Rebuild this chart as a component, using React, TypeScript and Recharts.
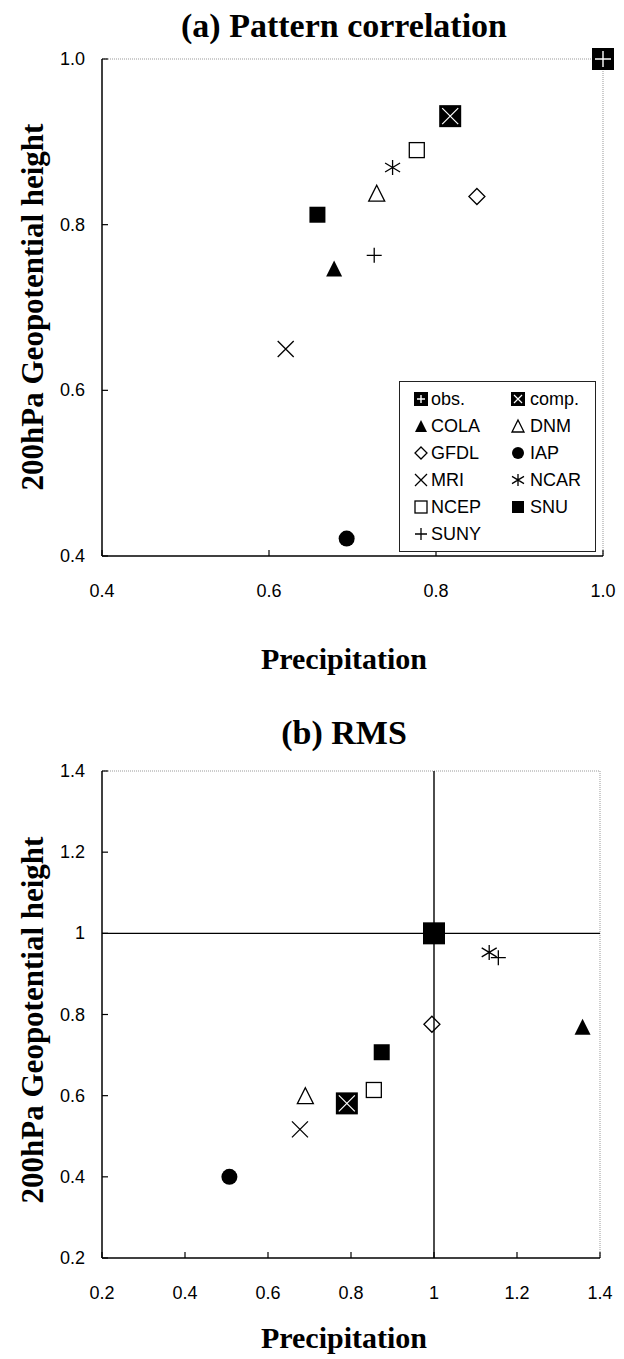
import React from "react";
import { ScatterChart, Scatter, XAxis, YAxis, ReferenceLine } from "recharts";

// model names and symbol kinds (same order everywhere)
const models = ["obs.", "comp.", "COLA", "DNM", "GFDL", "IAP", "MRI", "NCAR", "NCEP", "SNU", "SUNY"];
const kinds = ["obs", "comp", "triFill", "triOpen", "diamond", "circle", "cross", "star", "sqOpen", "sqFill", "plus"];

// (a) pattern correlation
const corrPrecip = [1.0, 0.817, 0.678, 0.729, 0.849, 0.693, 0.62, 0.748, 0.777, 0.658, 0.726];
const corrZ200 = [1.0, 0.931, 0.747, 0.838, 0.834, 0.421, 0.65, 0.869, 0.89, 0.812, 0.763];
const corrTicks = [0.4, 0.6, 0.8, 1.0];

// (b) RMS
const rmsPrecip = [1.0, 0.79, 1.358, 0.69, 0.995, 0.507, 0.677, 1.133, 0.855, 0.874, 1.155];
const rmsZ200 = [1.0, 0.581, 0.77, 0.6, 0.776, 0.4, 0.517, 0.953, 0.614, 0.707, 0.94];
const rmsTicks = [0.2, 0.4, 0.6, 0.8, 1.0, 1.2, 1.4];

const SANS = "'Liberation Sans', Arial, sans-serif";
const SERIF = "'Liberation Serif', 'Times New Roman', serif";

function Marker({ kind, cx, cy, s }: any) {
  const h = s / 2;
  const sw = 1.3;
  switch (kind) {
    case "obs":
      return (
        <g>
          <rect x={cx - h} y={cy - h} width={s} height={s} fill="#000" />
          <path d={`M${cx - h + 3},${cy}H${cx + h - 3}M${cx},${cy - h + 3}V${cy + h - 3}`} stroke="#fff" strokeWidth={1.4} />
        </g>
      );
    case "obsSolid":
      return <rect x={cx - h} y={cy - h} width={s} height={s} fill="#000" />;
    case "comp":
      return (
        <g>
          <rect x={cx - h} y={cy - h} width={s} height={s} fill="#000" />
          <path d={`M${cx - h + 3},${cy - h + 3}L${cx + h - 3},${cy + h - 3}M${cx + h - 3},${cy - h + 3}L${cx - h + 3},${cy + h - 3}`} stroke="#fff" strokeWidth={1.2} />
        </g>
      );
    case "triFill":
      return <polygon points={`${cx},${cy - h} ${cx + h},${cy + h} ${cx - h},${cy + h}`} fill="#000" />;
    case "triOpen":
      return <polygon points={`${cx},${cy - h} ${cx + h},${cy + h} ${cx - h},${cy + h}`} fill="none" stroke="#000" strokeWidth={sw} />;
    case "diamond":
      return <polygon points={`${cx},${cy - h} ${cx + h},${cy} ${cx},${cy + h} ${cx - h},${cy}`} fill="none" stroke="#000" strokeWidth={sw} />;
    case "circle":
      return <circle cx={cx} cy={cy} r={h} fill="#000" />;
    case "cross":
      return <path d={`M${cx - h},${cy - h}L${cx + h},${cy + h}M${cx + h},${cy - h}L${cx - h},${cy + h}`} stroke="#000" strokeWidth={sw} />;
    case "star":
      return (
        <path
          d={`M${cx},${cy - h}V${cy + h}M${cx - h},${cy - h * 0.6}L${cx + h},${cy + h * 0.6}M${cx + h},${cy - h * 0.6}L${cx - h},${cy + h * 0.6}`}
          stroke="#000"
          strokeWidth={sw}
        />
      );
    case "sqOpen":
      return <rect x={cx - h} y={cy - h} width={s} height={s} fill="none" stroke="#000" strokeWidth={sw} />;
    case "sqFill":
      return <rect x={cx - h} y={cy - h} width={s} height={s} fill="#000" />;
    case "plus":
      return <path d={`M${cx - h},${cy}H${cx + h}M${cx},${cy - h}V${cy + h}`} stroke="#000" strokeWidth={sw} />;
    default:
      return null;
  }
}

function sizeOf(kind: string, big: number) {
  if (kind === "obs" || kind === "comp" || kind === "obsSolid") return big;
  if (kind === "sqOpen" || kind === "plus" || kind === "star") return 15;
  return 16;
}

function XTick({ x, y, payload, fmt }: any) {
  return (
    <g>
      <line x1={x} y1={y} x2={x} y2={y - 6} stroke="#000" strokeWidth={1.2} />
      <text x={x} y={y + 41} textAnchor="middle" fontSize={18} fontFamily={SANS} fill="#000">
        {fmt(payload.value)}
      </text>
    </g>
  );
}

function YTick({ x, y, payload, fmt }: any) {
  return (
    <g>
      <line x1={x} y1={y} x2={x + 6} y2={y} stroke="#000" strokeWidth={1.2} />
      <text x={x - 17} y={y + 6} textAnchor="end" fontSize={18} fontFamily={SANS} fill="#000">
        {fmt(payload.value)}
      </text>
    </g>
  );
}

function Label({ text, cx, cy, size, rotate }: any) {
  return (
    <div
      style={{
        position: "absolute",
        left: cx,
        top: cy,
        transform: `translate(-50%, -50%)${rotate ? " rotate(-90deg)" : ""}`,
        fontFamily: SERIF,
        fontWeight: "bold",
        fontSize: size,
        lineHeight: 1,
        whiteSpace: "nowrap",
      }}
    >
      {text}
    </div>
  );
}

function ModelLegend() {
  return (
    <div
      style={{
        position: "absolute",
        left: 399,
        top: 381,
        width: 197,
        height: 171,
        border: "1.3px solid #222",
        background: "#fff",
        boxSizing: "border-box",
      }}
    >
      {models.map((m, i) => {
        const row = Math.floor(i / 2);
        const col = i % 2;
        const cy = 17 + row * 27;
        const mx = col === 0 ? 21 : 118;
        const k = kinds[i];
        const s = k === "obs" || k === "comp" ? 14 : 12;
        return (
          <React.Fragment key={m}>
            <svg style={{ position: "absolute", left: mx - 9, top: cy - 9 }} width={18} height={18}>
              <Marker kind={k} cx={9} cy={9} s={s} />
            </svg>
            <div
              style={{
                position: "absolute",
                left: col === 0 ? 31 : 130,
                top: cy - 10,
                fontFamily: SANS,
                fontSize: 18,
                lineHeight: "20px",
              }}
            >
              {m}
            </div>
          </React.Fragment>
        );
      })}
    </div>
  );
}

const fmtA = (v: number) => v.toFixed(1);
const fmtB = (v: number) => (v === 1 ? "1" : v.toFixed(1));

export default function App() {
  const axisLine = { stroke: "#000", strokeWidth: 1.5 };
  const frame = { stroke: "#999", strokeWidth: 1, strokeDasharray: "1 1" };
  return (
    <div style={{ position: "absolute", left: 0, top: 0, width: 624, height: 1359, background: "#fff" }}>
      <Label text="(a) Pattern correlation" cx={344} cy={26} size={34} />
      <div style={{ position: "absolute", left: 0, top: 0 }}>
        <ScatterChart width={624} height={700} margin={{ top: 59, right: 21, bottom: 104, left: 42 }}>
          <XAxis
            type="number"
            dataKey="x"
            domain={[0.4, 1.0]}
            ticks={corrTicks}
            interval={0}
            height={40}
            tickSize={0}
            tickMargin={0}
            axisLine={axisLine}
            tick={(p: any) => <XTick {...p} fmt={fmtA} />}
          />
          <YAxis
            type="number"
            dataKey="y"
            domain={[0.4, 1.0]}
            ticks={corrTicks}
            interval={0}
            width={60}
            tickSize={0}
            tickMargin={0}
            axisLine={axisLine}
            tick={(p: any) => <YTick {...p} fmt={fmtA} />}
          />
          <ReferenceLine y={1.0} {...frame} />
          <ReferenceLine x={1.0} {...frame} />
          {models.map((m, i) => (
            <Scatter
              key={m}
              name={m}
              data={[{ x: corrPrecip[i], y: corrZ200[i] }]}
              isAnimationActive={false}
              shape={(p: any) => <Marker kind={kinds[i]} cx={p.cx} cy={p.cy} s={sizeOf(kinds[i], 22)} />}
            />
          ))}
        </ScatterChart>
      </div>
      <ModelLegend />
      <Label text="Precipitation" cx={344} cy={659} size={30} />
      <Label text="200hPa Geopotential height" cx={32} cy={307} size={31} rotate />

      <Label text="(b) RMS" cx={344} cy={733} size={34} />
      <div style={{ position: "absolute", left: 0, top: 700 }}>
        <ScatterChart width={624} height={659} margin={{ top: 71, right: 24, bottom: 61, left: 42 }}>
          <XAxis
            type="number"
            dataKey="x"
            domain={[0.2, 1.4]}
            ticks={rmsTicks}
            interval={0}
            height={40}
            tickSize={0}
            tickMargin={0}
            axisLine={axisLine}
            tick={(p: any) => <XTick {...p} fmt={fmtB} />}
          />
          <YAxis
            type="number"
            dataKey="y"
            domain={[0.2, 1.4]}
            ticks={rmsTicks}
            interval={0}
            width={60}
            tickSize={0}
            tickMargin={0}
            axisLine={axisLine}
            tick={(p: any) => <YTick {...p} fmt={fmtB} />}
          />
          <ReferenceLine y={1.4} {...frame} />
          <ReferenceLine x={1.4} {...frame} />
          <ReferenceLine y={1.0} stroke="#000" strokeWidth={1.4} />
          <ReferenceLine x={1.0} stroke="#000" strokeWidth={1.4} />
          {models.map((m, i) => (
            <Scatter
              key={m}
              name={m}
              data={[{ x: rmsPrecip[i], y: rmsZ200[i] }]}
              isAnimationActive={false}
              shape={(p: any) => {
                const k = kinds[i] === "obs" ? "obsSolid" : kinds[i];
                return <Marker kind={k} cx={p.cx} cy={p.cy} s={sizeOf(k, 22)} />;
              }}
            />
          ))}
        </ScatterChart>
      </div>
      <Label text="Precipitation" cx={344} cy={1338} size={30} />
      <Label text="200hPa Geopotential height" cx={32} cy={1020} size={31} rotate />
    </div>
  );
}
